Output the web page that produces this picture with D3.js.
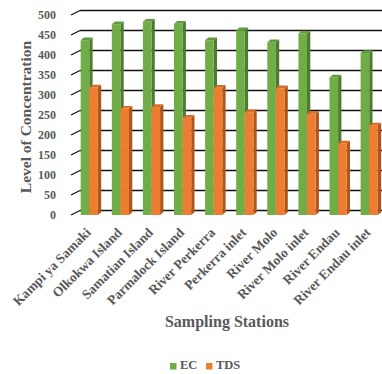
<!DOCTYPE html>
<html>
<head>
<meta charset="utf-8">
<script src="https://cdn.jsdelivr.net/npm/d3@7"></script>
<style>
  html, body { margin: 0; padding: 0; background: #fff; }
  svg { display: block; }
  text { font-family: "Liberation Serif", "Times New Roman", serif; font-weight: bold; fill: #595959; }
</style>
</head>
<body>
<script>
// Sampling stations along the lake and the measured levels
const categories = [
  "Kampi ya Samaki", "Olkokwa Island", "Samatian Island", "Parmalock Island",
  "River Perkerra", "Perkerra inlet", "River Molo", "River Molo inlet",
  "River Endau", "River Endau inlet"
];
const ecValues  = [437, 477, 483, 478, 437, 462, 432, 454, 344, 405];
const tdsValues = [319, 266, 270, 243, 318, 257, 317, 253, 179, 224];
const yTicks = [0, 50, 100, 150, 200, 250, 300, 350, 400, 450, 500];
const seriesNames = ["EC", "TDS"];

const W = 382, H = 374;
const colors = {
  EC:  { front: "#70AD47", side: "#4E7B31", top: "#62993c" },
  TDS: { front: "#ED7D31", side: "#B1561B", top: "#d96e27" }
};

const svg = d3.select("body").append("svg").attr("width", W).attr("height", H);

// Front plane scales; the back wall sits up and to the right of it
const x = d3.scaleBand().domain(categories).range([71, 382]).padding(0);
const y = d3.scaleLinear().domain([0, 500]).range([215, 15]);
const wall = { dx: 9, dy: -4.5 };
const barW = 8.6, depth = { dx: 3.3, dy: -2.7 }, barOffset = 9.7;

// Back wall gridlines with the short floor-depth stroke on the left
const grid = svg.append("g");
yTicks.forEach(v => {
  const yb = y(v) + wall.dy;
  grid.append("line")
    .attr("x1", 71).attr("y1", y(v)).attr("x2", 71 + wall.dx).attr("y2", yb)
    .attr("stroke", "#111").attr("stroke-width", 1.3);
  grid.append("line")
    .attr("x1", 71 + wall.dx).attr("y1", yb).attr("x2", W).attr("y2", yb)
    .attr("stroke", "#111").attr("stroke-width", 1.3);
});

// Tick labels
svg.append("g").selectAll("text").data(yTicks).join("text")
  .attr("x", 56).attr("y", d => y(d) + 1)
  .attr("text-anchor", "end").attr("dominant-baseline", "middle")
  .attr("font-size", 12).text(d => d);

// 3D columns: front face, side face, top face
function drawBar(g, x0, v, c) {
  const x1 = x0 + barW, yt = y(v), yb = y(0);
  g.append("polygon")
    .attr("points", [[x1, yt], [x1 + depth.dx, yt + depth.dy], [x1 + depth.dx, yb + depth.dy], [x1, yb]].join(" "))
    .attr("fill", c.side);
  g.append("polygon")
    .attr("points", [[x0, yt], [x1, yt], [x1 + depth.dx, yt + depth.dy], [x0 + depth.dx, yt + depth.dy]].join(" "))
    .attr("fill", c.top);
  g.append("rect")
    .attr("x", x0).attr("y", yt).attr("width", barW).attr("height", yb - yt)
    .attr("fill", c.front);
}

const bars = svg.append("g");
categories.forEach((cat, i) => {
  const g = bars.append("g");
  const x0 = x(cat) + barOffset;
  drawBar(g, x0, ecValues[i], colors.EC);
  drawBar(g, x0 + barW, tdsValues[i], colors.TDS);
});

// Category labels, rotated
svg.append("g").selectAll("text").data(categories).join("text")
  .attr("transform", d => `translate(${x(d) + barOffset + barW - 1},${230}) rotate(-45)`)
  .attr("text-anchor", "end").attr("dy", "0.35em")
  .attr("font-size", 13.5).text(d => d);

// Axis titles
svg.append("text")
  .attr("transform", "translate(27,117) rotate(-90)")
  .attr("text-anchor", "middle").attr("dominant-baseline", "middle")
  .attr("font-size", 15.5).text("Level of Concentration");

svg.append("text")
  .attr("x", 227).attr("y", 323)
  .attr("text-anchor", "middle").attr("dominant-baseline", "middle")
  .attr("font-size", 16).text("Sampling Stations");

// Legend
const legend = svg.append("g");
const legendItems = [
  { name: seriesNames[0], sx: 170, tx: 180 },
  { name: seriesNames[1], sx: 206, tx: 216 }
];
legendItems.forEach(it => {
  legend.append("rect").attr("x", it.sx).attr("y", 363).attr("width", 6.5).attr("height", 6.5)
    .attr("fill", colors[it.name].front);
  legend.append("text").attr("x", it.tx).attr("y", 366.5)
    .attr("dominant-baseline", "middle").attr("font-size", 12.5).text(it.name);
});
</script>
</body>
</html>
